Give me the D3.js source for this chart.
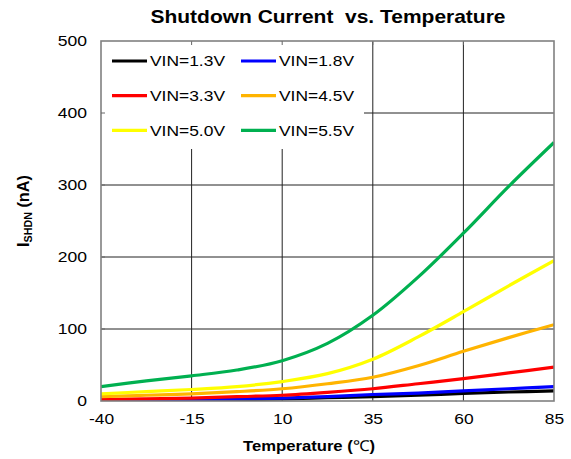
<!DOCTYPE html>
<html>
<head>
<meta charset="utf-8">
<script src="https://cdn.jsdelivr.net/npm/d3@7"></script>
<style>
    body { margin: 0; background: #fff; }
    text { font-family: Arial, "Liberation Sans", sans-serif; }
</style>
</head>
<body>
<div id="vis"></div>
<script>
// Temperatures where values were read (deg C)
var temps = [-40, -27.5, -15, -2.5, 10, 22.5, 35, 47.5, 60, 72.5, 85];

// Shutdown current (nA) per VIN
var vin13 = [0.5, 1, 1.5, 2, 3, 4.5, 6, 8, 10.5, 12.5, 14];
var vin18 = [1, 1.5, 2, 3, 4, 6, 9, 11, 14, 17, 20];
var vin33 = [2, 3, 4, 6, 8, 12, 17, 24, 31, 39, 47];
var vin45 = [6, 8, 10, 13, 17, 24, 33, 49, 69, 88, 106];
var vin50 = [10, 13, 16, 20, 27, 38, 58, 89, 124, 160, 195];
var vin55 = [20, 28, 35, 43, 56, 80, 119, 172, 233, 298, 359];

var labels = ['VIN=1.3V', 'VIN=1.8V', 'VIN=3.3V', 'VIN=4.5V', 'VIN=5.0V', 'VIN=5.5V'];
var colors = ['#000000', '#0000ff', '#ff0000', '#ffb400', '#ffff00', '#00b050'];
var seriesValues = [vin13, vin18, vin33, vin45, vin50, vin55];

var xTicks = [-40, -15, 10, 35, 60, 85];
var yTicks = [0, 100, 200, 300, 400, 500];

var width = 571;
var height = 459;
var margin = { left: 101, right: 17, top: 41, bottom: 58 };
var drawWidth = width - margin.left - margin.right;
var drawHeight = height - margin.top - margin.bottom;

// text in the source is a bit wider than plain Arial
var stretch = 1.17;

var svg = d3.select('#vis')
    .append('svg')
    .attr('width', width)
    .attr('height', height)
    .style('background', '#fff');

var g = svg.append('g')
    .attr('transform', 'translate(' + margin.left + ',' + margin.top + ')');

var xScale = d3.scaleLinear().domain([-40, 85]).range([0, drawWidth]);
var yScale = d3.scaleLinear().domain([0, 500]).range([drawHeight, 0]);

// gridlines
g.selectAll('.vgrid')
    .data(xTicks.slice(1, -1))
    .enter().append('line')
    .attr('x1', function(d) { return xScale(d); })
    .attr('x2', function(d) { return xScale(d); })
    .attr('y1', 0)
    .attr('y2', drawHeight)
    .attr('stroke', '#222')
    .attr('stroke-width', 1);

g.selectAll('.hgrid')
    .data(yTicks.slice(1, -1))
    .enter().append('line')
    .attr('x1', 0)
    .attr('x2', drawWidth)
    .attr('y1', function(d) { return yScale(d); })
    .attr('y2', function(d) { return yScale(d); })
    .attr('stroke', '#222')
    .attr('stroke-width', 1);

// legend background hides grid
g.append('rect')
    .attr('x', 1)
    .attr('y', 1)
    .attr('width', 262)
    .attr('height', 107)
    .attr('fill', '#fff');

// small inner ticks (drawn over legend box)
g.selectAll('.ttick')
    .data(xTicks.slice(1, -1))
    .enter().append('line')
    .attr('x1', function(d) { return xScale(d); })
    .attr('x2', function(d) { return xScale(d); })
    .attr('y1', 0)
    .attr('y2', 4)
    .attr('stroke', '#666');

g.selectAll('.ltick')
    .data(yTicks.slice(1, -1))
    .enter().append('line')
    .attr('x1', 0)
    .attr('x2', 4)
    .attr('y1', function(d) { return yScale(d); })
    .attr('y2', function(d) { return yScale(d); })
    .attr('stroke', '#666');

// curves
var line = d3.line()
    .x(function(d) { return xScale(d[0]); })
    .y(function(d) { return yScale(d[1]); })
    .curve(d3.curveCatmullRom.alpha(0.5));

svg.append('clipPath').attr('id', 'clip')
    .append('rect')
    .attr('x', 0).attr('y', 0)
    .attr('width', drawWidth).attr('height', drawHeight);

seriesValues.forEach(function(vals, i) {
    g.append('path')
        .datum(temps.map(function(t, j) { return [t, vals[j]]; }))
        .attr('d', line)
        .attr('fill', 'none')
        .attr('stroke', colors[i])
        .attr('stroke-width', 3.2)
        .attr('clip-path', 'url(#clip)');
});

// plot border
g.append('rect')
    .attr('x', 0)
    .attr('y', 0)
    .attr('width', drawWidth)
    .attr('height', drawHeight)
    .attr('fill', 'none')
    .attr('stroke', '#808080')
    .attr('stroke-width', 1.6);

// axes (labels only)
var xAxis = d3.axisBottom(xScale).tickValues(xTicks).tickSize(0).tickPadding(13)
    .tickFormat(function(d) { return String(d); });
var yAxis = d3.axisLeft(yScale).tickValues(yTicks).tickSize(0)
    .tickFormat(function(d) { return String(d); });

var xg = g.append('g')
    .attr('transform', 'translate(0,' + drawHeight + ')')
    .call(xAxis);
var yg = g.append('g').call(yAxis);

[xg, yg].forEach(function(a) {
    a.select('.domain').remove();
    a.selectAll('text')
        .attr('font-family', 'Arial, "Liberation Sans", sans-serif')
        .attr('font-size', 15)
        .attr('fill', '#000');
});
xg.selectAll('text')
    .attr('font-size', 14.5)
    .attr('transform', 'scale(1.2,1)');
yg.selectAll('text')
    .attr('x', -14 / stretch)
    .attr('transform', 'scale(' + stretch + ',1)');

// legend entries
labels.forEach(function(label, i) {
    var col = i % 2;
    var row = Math.floor(i / 2);
    var lx = 11 + col * 129;
    var ly = 20 + row * 34.7;
    g.append('line')
        .attr('x1', lx)
        .attr('x2', lx + 35)
        .attr('y1', ly)
        .attr('y2', ly)
        .attr('stroke', colors[i])
        .attr('stroke-width', 3.2);
    g.append('text')
        .attr('x', lx + 38)
        .attr('y', ly)
        .attr('dy', '0.36em')
        .attr('font-size', 14.5)
        .attr('fill', '#000')
        .attr('textLength', 75)
        .attr('lengthAdjust', 'spacingAndGlyphs')
        .text(label);
});

// title
svg.append('text')
    .attr('x', 328)
    .attr('y', 22.5)
    .attr('text-anchor', 'middle')
    .attr('font-size', 18.5)
    .attr('font-weight', 'bold')
    .attr('xml:space', 'preserve')
    .attr('textLength', 355)
    .attr('lengthAdjust', 'spacingAndGlyphs')
    .text('Shutdown Current  vs. Temperature');

// x axis title
var xt = svg.append('text')
    .attr('x', 243)
    .attr('y', 451)
    .attr('font-size', 15)
    .attr('font-weight', 'bold')
    .attr('textLength', 132)
    .attr('lengthAdjust', 'spacingAndGlyphs');
xt.append('tspan').text('Temperature (');
xt.append('tspan').attr('font-weight', 'normal').text('\u2103');
xt.append('tspan').text(')');

// y axis title
var yt = svg.append('text')
    .attr('transform', 'translate(29,211) rotate(-90)')
    .attr('text-anchor', 'middle')
    .attr('font-size', 16)
    .attr('font-weight', 'bold')
    .attr('textLength', 72)
    .attr('lengthAdjust', 'spacingAndGlyphs');
yt.append('tspan').text('I');
yt.append('tspan').attr('font-size', 10.5).attr('dy', 3).text('SHDN');
yt.append('tspan').attr('dy', -3).text(' (nA)');
</script>
</body>
</html>
